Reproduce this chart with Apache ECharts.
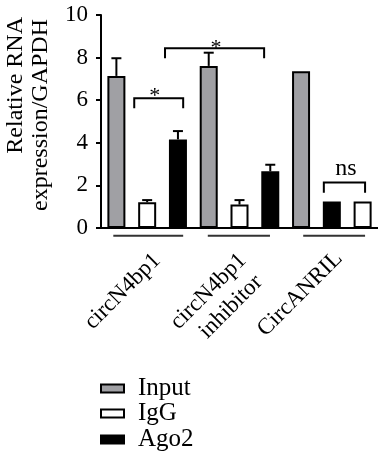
<!DOCTYPE html>
<html>
<head>
<meta charset="utf-8">
<script src="https://cdn.jsdelivr.net/npm/echarts@6/dist/echarts.min.js"></script>
<style>html,body{margin:0;padding:0;background:#fff}#c{width:378px;height:457px}</style>
</head>
<body>
<div id="c"></div>
<script>
// ---- data ----
const groupLabels = [['circN4bp1'], ['circN4bp1', 'inhibitor'], ['CircANRIL']];
const seriesNames = ['Input', 'IgG', 'Ago2'];
const inputValues = [7.14, 7.61, 7.36];
const iggValues = [1.21, 1.10, 1.25];
const ago2Values = [4.16, 2.66, 1.25];
const inputErrors = [0.83, 0.62, 0];
const iggErrors = [0.10, 0.21, 0];
const ago2Errors = [0.39, 0.31, 0];
const barOrder = [['Input', 'IgG', 'Ago2'], ['Input', 'IgG', 'Ago2'], ['Input', 'Ago2', 'IgG']];
const yTicks = [0, 2, 4, 6, 8, 10];
// significance brackets: [startSlot, endSlot, topValue, dropValue]
const brackets = [[0.58, 2.17, 6.09, 5.62], [1.58, 4.80, 8.44, 7.97], [6.74, 8.08, 2.14, 1.66]];
const sigLabels = [['*', 1.25, 6.20], ['*', 3.24, 8.45], ['ns', 7.46, 2.77]];
// group underlines: [startSlot, endSlot, value]
const underlines = [[-0.10, 2.17, -0.36], [2.97, 4.99, -0.36], [6.07, 8.08, -0.36]];
// category label anchors: [groupIndex, lineIndex, slot, value]
const labelAnchors = [[0, 0, 1.32, -1.36], [1, 0, 4.11, -1.36], [1, 1, 4.63, -2.39], [2, 0, 7.23, -1.27]];

// ---- build ----
const valuesBy = { Input: inputValues, IgG: iggValues, Ago2: ago2Values };
const errorsBy = { Input: inputErrors, IgG: iggErrors, Ago2: ago2Errors };
const slots = [];
barOrder.forEach((ord, g) => ord.forEach(name => slots.push({ g, name })));
const slotCats = slots.map((s, i) => String(i));
const seriesSlotData = {};
seriesNames.forEach(n => {
  seriesSlotData[n] = slots.map(s => (s.name === n ? valuesBy[n][s.g] : '-'));
});
const errData = [];
slots.forEach((s, i) => {
  const e = errorsBy[s.name][s.g];
  if (e > 0) errData.push([i, valuesBy[s.name][s.g], e]);
});

const FONT = 'Liberation Serif';
const colors = { Input: '#a0a0a4', IgG: '#ffffff', Ago2: '#000000' };

function slotX(api, pos) {
  const c0 = api.coord([0, 0])[0];
  const w = api.size([1, 0])[0];
  return c0 + pos * w;
}
function yPx(api, v) { return api.coord([0, v])[1]; }

const barSeries = seriesNames.map(n => ({
  name: n, type: 'bar', data: seriesSlotData[n], barWidth: 18, barGap: '-100%',
  itemStyle: { color: colors[n], borderColor: '#000', borderWidth: 2 },
  emphasis: { disabled: true }
}));

const legendTops = [376, 401, 427];
const legends = seriesNames.map((n, i) => ({
  data: [n], orient: 'vertical', left: 100, top: legendTops[i], padding: 0,
  icon: 'rect', itemWidth: 23, itemHeight: 8, selectedMode: false,
  textStyle: { fontFamily: FONT, fontSize: 25, color: '#000', lineHeight: 20, padding: [0, 0, 0, 9] }
}));

const option = {
  animation: false,
  textStyle: { fontFamily: FONT },
  grid: { left: 101, right: 0, top: 15, bottom: 229 },
  legend: legends,
  xAxis: {
    type: 'category', data: slotCats,
    axisLine: { lineStyle: { color: '#000', width: 2 } },
    axisTick: { show: false }, axisLabel: { show: false }
  },
  yAxis: {
    type: 'value', min: 0, max: 10, interval: 2,
    splitLine: { show: false },
    axisLine: { show: true, lineStyle: { color: '#000', width: 2 } },
    axisTick: { show: true, length: 5, lineStyle: { color: '#000', width: 2 } },
    axisLabel: { fontFamily: FONT, fontSize: 23, color: '#000', margin: 13,
      formatter: v => (yTicks.indexOf(v) >= 0 ? String(v) : '') }
  },
  graphic: [
    { type: 'text', x: 16, y: 17, rotation: Math.PI / 2,
      style: { text: 'Relative RNA', fontFamily: FONT, fontSize: 24, fill: '#000', align: 'right', verticalAlign: 'middle' } },
    { type: 'text', x: 41, y: 19, rotation: Math.PI / 2,
      style: { text: 'expression/GAPDH', fontFamily: FONT, fontSize: 24, fill: '#000', align: 'right', verticalAlign: 'middle' } }
  ],
  series: barSeries.concat([
    {
      type: 'custom', name: 'err', clip: false, z: 1,
      data: errData,
      renderItem: (params, api) => {
        const x = api.coord([api.value(0), 0])[0];
        const yTop = yPx(api, api.value(1));
        const yCap = yPx(api, api.value(1) + api.value(2));
        const st = { stroke: '#000', lineWidth: 2 };
        return { type: 'group', children: [
          { type: 'line', shape: { x1: x, y1: yTop, x2: x, y2: yCap }, style: st },
          { type: 'line', shape: { x1: x - 5, y1: yCap, x2: x + 5, y2: yCap }, style: st }
        ] };
      }
    },
    {
      type: 'custom', name: 'brackets', clip: false,
      data: brackets,
      renderItem: (params, api) => {
        const x1 = slotX(api, api.value(0)), x2 = slotX(api, api.value(1));
        const yt = yPx(api, api.value(2)), yd = yPx(api, api.value(3));
        return { type: 'polyline', shape: { points: [[x1, yd], [x1, yt], [x2, yt], [x2, yd]] },
          style: { stroke: '#000', lineWidth: 2, fill: null } };
      }
    },
    {
      type: 'custom', name: 'sig', clip: false,
      data: sigLabels.map(s => [s[1], s[2]]),
      renderItem: (params, api) => {
        const s = sigLabels[params.dataIndex];
        return { type: 'text', x: slotX(api, s[1]), y: yPx(api, s[2]),
          style: { text: s[0], fontFamily: FONT, fontSize: s[0] === '*' ? 22 : 24, fill: '#000', align: 'center', verticalAlign: 'middle' } };
      }
    },
    {
      type: 'custom', name: 'underlines', clip: false,
      data: underlines,
      renderItem: (params, api) => {
        const y = yPx(api, api.value(2));
        return { type: 'line', shape: { x1: slotX(api, api.value(0)), y1: y, x2: slotX(api, api.value(1)), y2: y },
          style: { stroke: '#333', lineWidth: 2 } };
      }
    },
    {
      type: 'custom', name: 'catLabels', clip: false,
      data: labelAnchors,
      renderItem: (params, api) => {
        const a = labelAnchors[params.dataIndex];
        return { type: 'text', x: slotX(api, a[2]), y: yPx(api, a[3]), rotation: Math.PI / 4,
          style: { text: groupLabels[a[0]][a[1]], fontFamily: FONT, fontSize: 23, fill: '#000', align: 'right', verticalAlign: 'middle' } };
      }
    }
  ])
};
const chart = echarts.init(document.getElementById('c'), null, { renderer: 'canvas' });
chart.setOption(option);
</script>
</body>
</html>
